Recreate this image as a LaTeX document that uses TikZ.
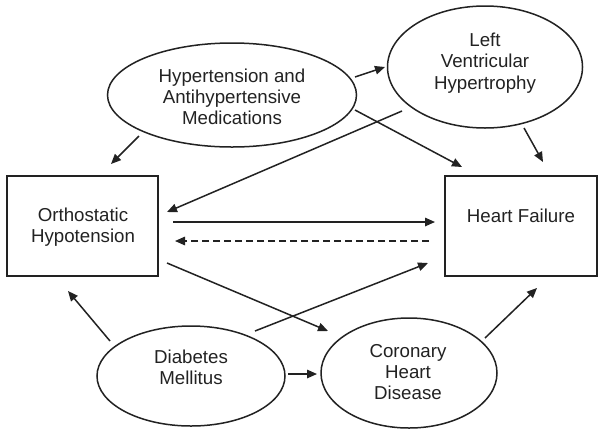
\documentclass[tikz,border=0pt]{standalone}
\usepackage{fontspec}
\setmainfont{Liberation Sans}
\usetikzlibrary{shapes.geometric,arrows.meta}
\definecolor{ink}{HTML}{222222}
\begin{document}
\begin{tikzpicture}[x=1pt,y=-1pt,
  shp/.style={draw=ink,line width=1.5pt,inner sep=0pt},
  ell/.style={shp,ellipse},
  box/.style={shp,rectangle},
  txt/.style={align=center,text=ink,font=\fontsize{18.7}{21.3}\selectfont,inner sep=0pt},
  arr/.style={draw=ink,line width=1.5pt,-{Triangle[length=10pt,width=8.5pt]}},
  darr/.style={arr,dash pattern=on 7pt off 4pt}]
\useasboundingbox (0,0) rectangle (601,437);
\fill[white] (0,0) rectangle (601,437);
% shapes
\node[ell,minimum width=249pt,minimum height=104pt] (htn) at (232,95) {};
\node[txt] (htnt) at (232,97) {Hypertension and\\Antihypertensive\\Medications};
\node[ell,minimum width=195pt,minimum height=122pt] (lvh) at (485,67) {};
\node[txt] (lvht) at (485,63) {Left\\Ventricular\\Hypertrophy};
\node[box,minimum width=151pt,minimum height=100pt] (oh) at (82.5,226) {};
\node[txt] (oht) at (83,227) {Orthostatic\\Hypotension};
\node[box,minimum width=152pt,minimum height=100pt] (hf) at (521,226) {};
\node[txt] (hft) at (521,216) {Heart Failure};
\node[ell,minimum width=188pt,minimum height=100pt] (dm) at (191,376) {};
\node[txt] (dmt) at (191,367) {Diabetes\\Mellitus};
\node[ell,minimum width=176pt,minimum height=110pt] (chd) at (409,373) {};
\node[txt] (chdt) at (408,372) {Coronary\\Heart\\Disease};
% connector end points
\coordinate (htn-oh) at (139,136);  \coordinate (oh-htn) at (111,164);
\coordinate (htn-lvh) at (355,77);  \coordinate (lvh-htn) at (385,67);
\coordinate (htn-hf) at (355,110);  \coordinate (hf-htn) at (462,167);
\coordinate (lvh-oh) at (402,111);  \coordinate (oh-lvh) at (167,212);
\coordinate (lvh-hf) at (524,128);  \coordinate (hf-lvh) at (543,162);
\coordinate (oh-hf) at (173,222);   \coordinate (hf-oh) at (435,222);
\coordinate (hf-ohd) at (429,241);  \coordinate (oh-hfd) at (175,241);
\coordinate (oh-chd) at (167,263);  \coordinate (chd-oh) at (328,331);
\coordinate (dm-oh) at (110,341);   \coordinate (oh-dm) at (68,291);
\coordinate (dm-hf) at (255,331);   \coordinate (hf-dm) at (428,263);
\coordinate (dm-chd) at (288,374);  \coordinate (chd-dm) at (317,374);
\coordinate (chd-hf) at (485,338);  \coordinate (hf-chd) at (537,288);
% connectors
\draw[arr] (htn-oh) -- (oh-htn);
\draw[arr] (htn-lvh) -- (lvh-htn);
\draw[arr] (htn-hf) -- (hf-htn);
\draw[arr] (lvh-oh) -- (oh-lvh);
\draw[arr] (lvh-hf) -- (hf-lvh);
\draw[arr] (oh-hf) -- (hf-oh);
\draw[darr] (hf-ohd) -- (oh-hfd);
\draw[arr] (oh-chd) -- (chd-oh);
\draw[arr] (dm-oh) -- (oh-dm);
\draw[arr] (dm-hf) -- (hf-dm);
\draw[arr] (dm-chd) -- (chd-dm);
\draw[arr] (chd-hf) -- (hf-chd);
\end{tikzpicture}
\end{document}
